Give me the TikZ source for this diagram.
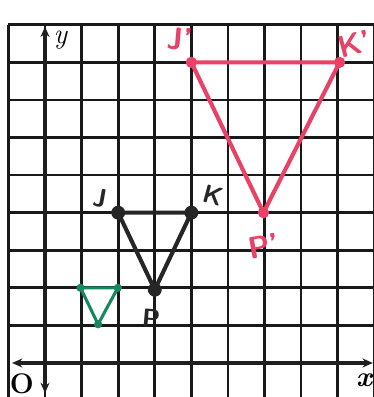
\documentclass[tikz,border=0pt]{standalone}
\usepackage{fontspec}
\usepackage{tikz}
\usetikzlibrary{arrows.meta}

\definecolor{markred}{RGB}{232,66,102}
\definecolor{markgreen}{RGB}{22,135,98}
\definecolor{markblack}{RGB}{38,38,38}

\begin{document}
\begin{tikzpicture}[
    x=1cm, y=1.027cm,
    gridline/.style={line width=2.1pt, black!90},
    axis/.style={
        line width=2.8pt,
        black!88,
        {Stealth[length=8pt,width=7pt]}-{Stealth[length=8pt,width=7pt]}
    },
    tri/.style={line width=3.2pt, line join=round, line cap=round},
    handlabel/.style={
        font=\sffamily\bfseries\fontsize{20}{20}\selectfont,
        inner sep=0pt
    },
    biglabel/.style={
        handlabel,
        font=\sffamily\bfseries\fontsize{24}{24}\selectfont
    },
    axislabel/.style={
        font=\fontsize{22}{22}\selectfont,
        inner sep=0pt
    }
]

\useasboundingbox (-1.23,-0.905) rectangle (8.99,9.66);

% grid
\foreach \i in {-1,...,9}
    \draw[gridline] (\i,-1) -- (\i,9);
\foreach \j in {1,...,9}
    \draw[gridline] (-1,\j) -- (9.2,\j);

% axes
\coordinate (xleft) at (-0.9,0);
\coordinate (xright) at (8.96,0);
\coordinate (ybottom) at (0,-0.8);
\coordinate (ytop) at (0,8.95);
\draw[axis] (xleft) -- (xright);
\draw[axis] (ybottom) -- (ytop);

\node[axislabel] (ylab) at (0.42,8.6) {\itshape y};
\node[axislabel] (xlab) at (8.72,-0.47) {\bfseries\itshape x};
\node[axislabel] (olab) at (-0.63,-0.55) {\bfseries O};

% original triangle
\coordinate (J) at (2,4);
\coordinate (K) at (4,4);
\coordinate (P) at (3,1.95);
\draw[tri, markblack] (J) -- (K) -- (P) -- cycle;
\foreach \v in {J,K,P}
    \fill[markblack] (\v) circle (5.4pt);
\node[handlabel, markblack, rotate=-10] (Jlab) at (1.5,4.38) {J};
\node[handlabel, markblack, rotate=-15] (Klab) at (4.6,4.45) {K};
\node[handlabel, markblack, rotate=-5] (Plab) at (2.9,1.2) {P};

% dilated triangle
\coordinate (J2) at (4,8);
\coordinate (K2) at (8.05,8);
\coordinate (P2) at (5.97,4);
\draw[tri, markred] (J2) -- (K2) -- (P2) -- cycle;
\foreach \v in {J2,K2,P2}
    \fill[markred] (\v) circle (4.4pt);
\node[biglabel, markred, rotate=-5] (J2lab) at (3.68,8.62) {J'};
\node[biglabel, markred, rotate=15] (K2lab) at (8.46,8.5) {K'};
\node[biglabel, markred, rotate=10] (P2lab) at (5.98,3.1) {P'};

% small triangle
\coordinate (A) at (0.97,2);
\coordinate (B) at (1.99,2);
\coordinate (C) at (1.45,1.03);
\draw[tri, markgreen, line width=2.4pt] (A) -- (B) -- (C) -- cycle;
\foreach \v in {A,B,C}
    \fill[markgreen] (\v) circle (3.2pt);

\end{tikzpicture}
\end{document}
